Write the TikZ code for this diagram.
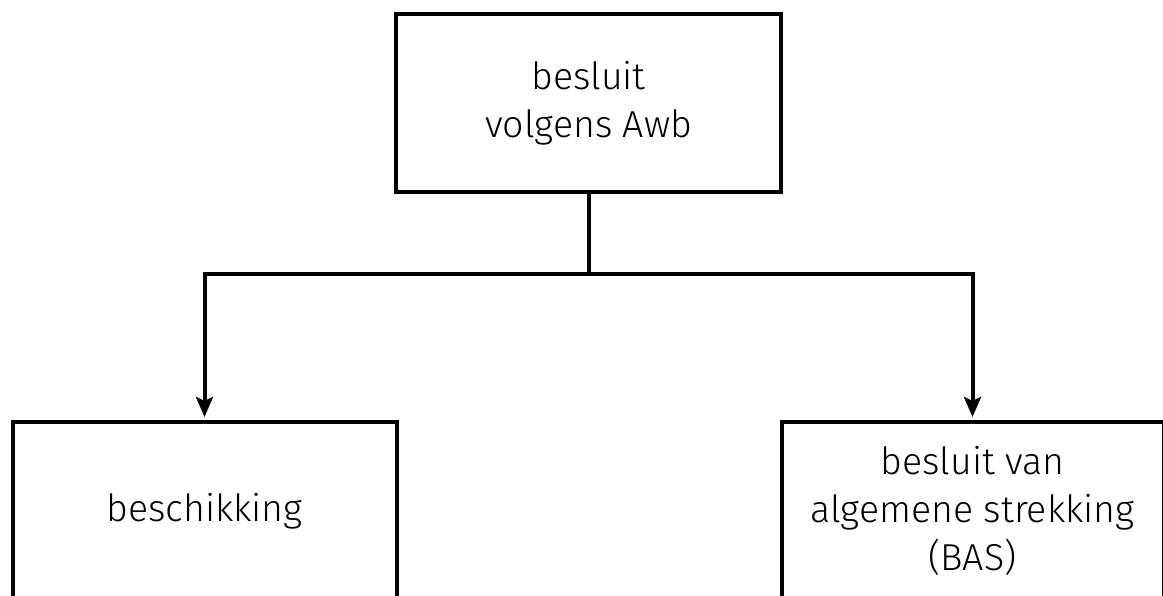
\documentclass[tikz,border=0pt]{standalone}
\usepackage{fontspec}
\setmainfont{Fira Sans}[UprightFont={* Light}]
\usetikzlibrary{trees}
\usetikzlibrary{arrows.meta}

\begin{document}
\begin{tikzpicture}
[x=1pt,y=1pt,line width=4pt,%
  every node/.style={shape=rectangle,draw,line width=4pt,inner sep=0pt,%
    minimum width=384pt,minimum height=178pt,align=center,%
    font=\fontsize{37.5}{48}\selectfont},%
  edge from parent/.style={draw,line width=4pt,%
    -{Stealth[length=20pt,width=17pt,inset=4pt]},shorten >=3pt},%
  edge from parent path={(\tikzparentnode.south) -- ++(0,-80)
    -| (\tikzchildnode.north)},%
  level distance=408pt,sibling distance=768pt]
\useasboundingbox (0,0) rectangle (1163,596);
\clip (0,0) rectangle (1163,596);
\node (besluit) at (588.5,493) [minimum width=385pt] {besluit\\volgens Awb}
  child {node (beschikking) {beschikking}}
  child {node (bas) [minimum width=382pt] {besluit van\\algemene strekking\\(BAS)}};
\end{tikzpicture}
\end{document}
